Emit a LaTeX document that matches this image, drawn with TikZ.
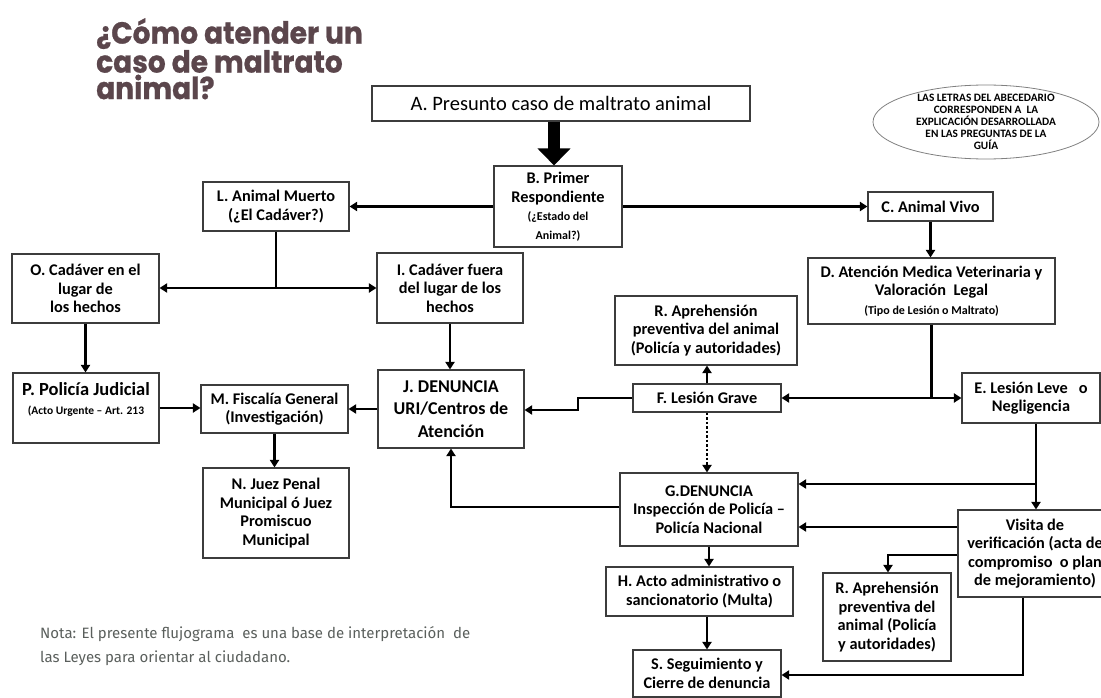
\documentclass[tikz,border=0pt]{standalone}
\usepackage{fontspec}
\setmainfont{Carlito}
\newfontfamily\titlefont{Poppins}[FakeStretch=0.92,FakeBold=0.8]
\newfontfamily\notefont{Fira Sans}
\usetikzlibrary{arrows.meta}
\definecolor{titlecolor}{HTML}{5B464C}
\definecolor{boxline}{HTML}{3C3C3C}
\definecolor{notegray}{HTML}{5A5F5C}
\tikzstyle{box} = [draw=boxline,line width=1.1pt,fill=white,inner sep=1pt,align=center,font=\bfseries\fontsize{16.3}{18.5}\selectfont]
\tikzstyle{legendtext} = [inner sep=0,align=center,font=\bfseries\fontsize{11.3}{12}\selectfont]
\tikzstyle{flow} = [line width=2.6pt,-{Triangle[length=7.5pt,width=9pt]}]
\tikzstyle{link} = [line width=2.6pt]
\newcommand{\smalltxt}[1]{{\fontsize{12}{14}\selectfont #1}}

\begin{document}
\begin{tikzpicture}[x=1pt,y=-1pt]
\useasboundingbox (0,0) rectangle (1101,698);
\clip (0,0) rectangle (1101,698);
%%% Title and note
\node[anchor=north west,align=left,inner sep=0,text=titlecolor,font=\titlefont\bfseries\fontsize{30.5}{26.5}\selectfont] (title) at (96,18) {¿Cómo atender un\\caso de maltrato\\animal?};
\node[anchor=north west,align=left,inner sep=0,text=notegray,font=\notefont\fontsize{15}{24}\selectfont] (note) at (40,626) {Nota: El presente flujograma\ \ es una base de interpretación\ \ de\\las Leyes para orientar al ciudadano.};
\node[legendtext] (legend) at (986,122) {LAS LETRAS DEL ABECEDARIO\\CORRESPONDEN A\ \ LA\\EXPLICACIÓN DESARROLLADA\\EN LAS PREGUNTAS DE LA\\GUÍA};
\draw[gray,line width=0.8pt] (legend.center) ellipse [x radius=113, y radius=37];

%%% Boxes
\node[box,font=\fontsize{20.5}{24}\selectfont,minimum width=378,minimum height=35] (A) at (561,103.5) {A. Presunto caso de maltrato animal};
\node[box,minimum width=128,minimum height=81] (B) at (558,206.5) {B. Primer\\Respondiente\\\smalltxt{(¿Estado del}\\\smalltxt{Animal?)}};
\node[box,minimum width=146,minimum height=49] (L) at (276,206.5) {L. Animal Muerto\\(¿El Cadáver?)};
\node[box,minimum width=125,minimum height=29] (C) at (930.5,206.5) {C. Animal Vivo};
\node[box,minimum width=247,minimum height=66] (D) at (931.5,291) {D. Atención Medica Veterinaria y\\Valoración\ \ Legal\\\smalltxt{(Tipo de Lesión o Maltrato)}};
\node[box,minimum width=147,minimum height=69] (O) at (85.5,288.5) {O. Cadáver en el\\lugar de\\los hechos};
\node[box,minimum width=146,minimum height=70] (I) at (450,288) {I. Cadáver fuera\\del lugar de los\\hechos};
\node[box,minimum width=182,minimum height=69] (Rtop) at (706,330.5) {R. Aprehensión\\preventiva del animal\\(Policía y autoridades)};
\node[box,minimum width=146,minimum height=70] (P) at (86,408) {\fontsize{18.5}{21}\selectfont P. Policía Judicial\\\fontsize{11.5}{13}\selectfont (Acto Urgente – Art. 213\\[0pt]\mbox{}};
\node[box,minimum width=147,minimum height=48] (M) at (274.5,409) {M. Fiscalía General\\(Investigación)};
\node[box,font=\bfseries\fontsize{18}{22.5}\selectfont,minimum width=146,minimum height=78] (J) at (451,409) {J. DENUNCIA\\URI/Centros de\\Atención};
\node[box,minimum width=148,minimum height=28] (F) at (707,398) {F. Lesión Grave};
\node[box,minimum width=138,minimum height=50] (E) at (1031,398) {E. Lesión Leve\ \ \ o\\Negligencia};
\node[box,minimum width=146,minimum height=90] (N) at (276,513) {N. Juez Penal\\Municipal ó Juez\\Promiscuo\\Municipal};
\node[box,minimum width=178,minimum height=73] (G) at (709,509.5) {G.DENUNCIA\\Inspección de Policía –\\Policía Nacional};
\node[box,minimum width=154,minimum height=87] (V) at (1035,553.5) {Visita de\\verificación (acta de\\compromiso\ \ o plan\\de mejoramiento)};
\node[box,minimum width=187,minimum height=49] (H) at (699.5,591.5) {H. Acto administrativo o\\sancionatorio (Multa)};
\node[box,minimum width=128,minimum height=88] (R2) at (887,617) {R. Aprehensión\\preventiva del\\animal (Policía\\y autoridades)};
\node[box,minimum width=148,minimum height=47] (S) at (707,673.5) {S. Seguimiento y\\Cierre de denuncia};

%%% Junctions and bends
\coordinate (jL) at (276,288);
\coordinate (jD) at (D.south |- F.east);
\coordinate (jE) at (1036,484);
\coordinate (kF) at (578,410);
\coordinate (kG) at (450,507);
\coordinate (kV) at (888,555);
\coordinate (kW) at (900,527);
\coordinate (kS) at (1023,675);

%%% Connectors
\draw[line width=12pt,-{Triangle[length=17pt,width=32pt]}] (A.south -| 554,0) -- (B.north -| 554,0);
\draw[flow] (B.west) -- (L.east);
\draw[flow] (B.east) -- (C.west);
\draw[flow] (C.south) -- (C.south |- D.north);
\draw[link] (L.south) -- (jL);
\draw[flow] (jL) -- (jL -| O.east);
\draw[flow] (jL) -- (jL -| I.west);
\draw[flow] (O.south) -- (O.south |- P.north);
\draw[flow] (I.south) -- (I.south |- J.north);
\draw[flow] (P.east) -- (P.east -| M.west);
\draw[flow] (J.west) -- (J.west -| M.east);
\draw[flow] (M.south) -- (M.south |- N.north);
\draw[link] (D.south) -- (jD);
\draw[flow] (jD) -- (F.east);
\draw[flow] (jD) -- (E.west);
\draw[flow] (F.north) -- (F.north |- Rtop.south);
\draw[flow] (F.west) -- (F.west -| kF) -- (kF) -- (kF -| J.east);
\draw[flow,dash pattern=on 2.5pt off 2pt] (F.south) -- (F.south |- G.north);
\draw[flow] (G.west |- kG) -- (J.south |- kG) -- (J.south);
\draw[flow] (G.south) -- (G.south |- H.north);
\draw[flow] (S.north |- H.south) -- (S.north);
\draw[flow] (jE |- E.south) -- (jE |- V.north);
\draw[flow] (jE) -- (jE -| G.east);
\draw[flow] (V.west |- kW) -- (G.east |- kW);
\draw[flow] (V.west |- kV) -- (kV) -- (kV |- R2.north);
\draw[flow] (kS |- V.south) -- (kS) -- (kS -| S.east);
\end{tikzpicture}
\end{document}
